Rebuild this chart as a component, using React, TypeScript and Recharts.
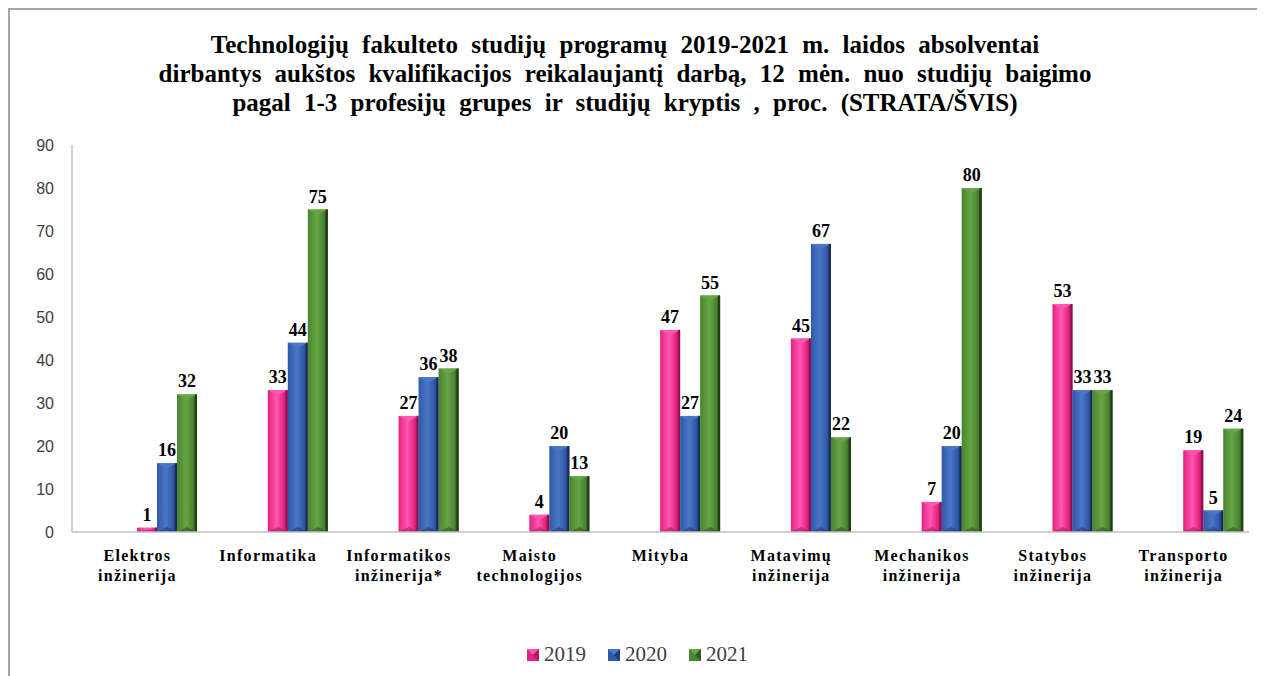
import React from "react";
import { Bar, BarChart, LabelList, Legend, XAxis, YAxis } from "recharts";

const categories = [
  ["Elektros", "inžinerija"],
  ["Informatika"],
  ["Informatikos", "inžinerija*"],
  ["Maisto", "technologijos"],
  ["Mityba"],
  ["Matavimų", "inžinerija"],
  ["Mechanikos", "inžinerija"],
  ["Statybos", "inžinerija"],
  ["Transporto", "inžinerija"],
];
const years = ["2019", "2020", "2021"];
const values2019 = [1, 33, 27, 4, 47, 45, 7, 53, 19];
const values2020 = [16, 44, 36, 20, 27, 67, 20, 33, 5];
const values2021 = [32, 75, 38, 13, 55, 22, 80, 33, 24];
const yTicks = [0, 10, 20, 30, 40, 50, 60, 70, 80, 90];

const data = categories.map((lines, i) => ({
  name: lines.join(" "),
  lines,
  y2019: values2019[i],
  y2020: values2020[i],
  y2021: values2021[i],
}));

const TONES = [
  { id: "pink", dark: "#8e0f52", base: "#e3237f", light: "#ff56b2" },
  { id: "blue", dark: "#182b5a", base: "#3158a8", light: "#4a77c6" },
  { id: "green", dark: "#203c15", base: "#4a8430", light: "#66a544" },
];

const SERIES_COUNT = 3;

const BevelBar = (props: any) => {
  const { x, y, width, height, tone } = props;
  if (!height || height <= 0) return null;
  const sx = x + (width * SERIES_COUNT) / 2;
  const b = Math.min(5, height / 2, width / 2);
  return (
    <g>
      <rect x={sx} y={y} width={width} height={height} fill={`url(#grad-${tone.id})`} />
      <polygon
        points={`${sx},${y} ${sx + width},${y} ${sx + width / 2},${y + b}`}
        fill={tone.light}
      />
      <polygon
        points={`${sx},${y + height} ${sx + width},${y + height} ${sx + width / 2},${y + height - b}`}
        fill={tone.dark}
        opacity={0.45}
      />
      <rect x={sx + width - 2} y={y} width={2} height={height} fill={tone.dark} />
    </g>
  );
};

const ValueLabel = (props: any) => {
  const { x, y, width, value } = props;
  const cx = x + (width * SERIES_COUNT) / 2 + width / 2;
  return (
    <text
      x={cx}
      y={y - 7}
      textAnchor="middle"
      fontFamily="'Liberation Serif', serif"
      fontWeight="bold"
      fontSize={18}
      fill="#000"
    >
      {value}
    </text>
  );
};

const CategoryTick = (props: any) => {
  const { x, y, payload, index } = props;
  const lines = categories[index] || [payload.value];
  return (
    <text
      x={x}
      y={y}
      textAnchor="middle"
      fontFamily="'Liberation Serif', serif"
      fontWeight="bold"
      fontSize={16}
      letterSpacing={1.3}
      fill="#000"
    >
      {lines.map((line: string, i: number) => (
        <tspan key={i} x={x} dy={i === 0 ? 21 : 20}>
          {line}
        </tspan>
      ))}
    </text>
  );
};

const YearLegend = () => (
  <div
    style={{
      display: "flex",
      justifyContent: "center",
      gap: 22,
      fontFamily: "'Liberation Serif', serif",
      fontSize: 21,
      color: "#404040",
    }}
  >
    {years.map((year, i) => (
      <span key={year} style={{ display: "flex", alignItems: "center", gap: 5 }}>
        <svg width={12} height={12}>
          <rect x={0} y={0} width={12} height={12} fill={TONES[i].base} />
          <polygon points="0,0 12,0 6,6" fill={TONES[i].light} />
          <polygon points="12,0 12,12 6,6" fill={TONES[i].dark} opacity={0.6} />
        </svg>
        {year}
      </span>
    ))}
  </div>
);

export default function App() {
  const keys = ["y2019", "y2020", "y2021"];
  return (
    <div
      style={{
        position: "relative",
        width: 1257,
        height: 668,
        borderTop: "2px solid #a6a6a6",
        borderLeft: "2px solid #a6a6a6",
        boxSizing: "border-box",
        background: "#fff",
      }}
    >
      <style>{`body{overflow:hidden}`}</style>
      <div
        style={{
          position: "absolute",
          top: 20,
          left: 0,
          width: 1230,
          textAlign: "center",
          fontFamily: "'Liberation Serif', serif",
          fontWeight: "bold",
          fontSize: 25,
          lineHeight: "29px",
          wordSpacing: 7,
          color: "#000",
          zIndex: 2,
        }}
      >
        Technologijų fakulteto studijų programų 2019-2021 m. laidos absolventai
        <br />
        dirbantys aukštos kvalifikacijos reikalaujantį darbą, 12 mėn. nuo studijų baigimo
        <br />
        pagal 1-3 profesijų grupes ir studijų kryptis , proc. (STRATA/ŠVIS)
      </div>
      <BarChart
        width={1255}
        height={666}
        data={data}
        margin={{ top: 135, right: 16, left: 0, bottom: 94 }}
        barSize={20}
        barGap={0}
      >
        <defs>
          {TONES.map((t) => (
            <linearGradient key={t.id} id={`grad-${t.id}`} x1="0" y1="0" x2="1" y2="0">
              <stop offset="0%" stopColor={t.base} />
              <stop offset="45%" stopColor={t.light} />
              <stop offset="80%" stopColor={t.base} />
              <stop offset="100%" stopColor={t.dark} />
            </linearGradient>
          ))}
        </defs>
        <XAxis
          dataKey="name"
          interval={0}
          height={50}
          tickLine={false}
          axisLine={{ stroke: "#bfbfbf", strokeWidth: 1.5 }}
          tick={<CategoryTick />}
        />
        <YAxis
          width={62}
          domain={[0, 90]}
          ticks={yTicks}
          interval={0}
          tickLine={false}
          tickSize={0}
          tickMargin={18}
          axisLine={{ stroke: "#bfbfbf", strokeWidth: 1.5 }}
          tick={{
            fontFamily: "'Liberation Sans', Arial, sans-serif",
            fontSize: 16,
            fill: "#404040",
          }}
        />
        <Legend
          layout="horizontal"
          verticalAlign="middle"
          align="center"
          wrapperStyle={{ top: 632, left: 0, width: 1255 }}
          content={<YearLegend />}
        />
        {keys.map((k, i) => (
          <Bar
            key={k}
            dataKey={k}
            name={years[i]}
            fill={TONES[i].base}
            isAnimationActive={false}
            shape={(p: any) => <BevelBar {...p} tone={TONES[i]} />}
          >
            <LabelList dataKey={k} content={<ValueLabel />} />
          </Bar>
        ))}
      </BarChart>
    </div>
  );
}
